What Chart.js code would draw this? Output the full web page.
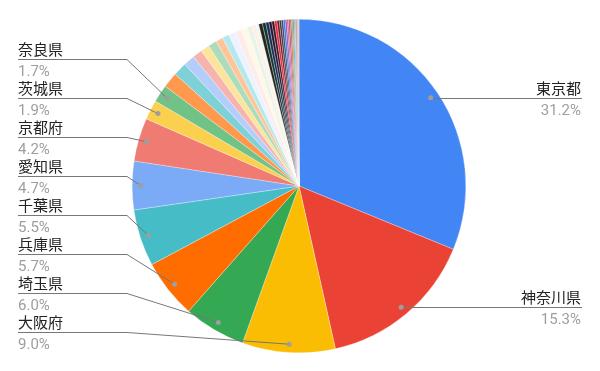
<!DOCTYPE html>
<html><head><meta charset="utf-8">
<script src="https://cdn.jsdelivr.net/npm/chart.js@4.4.0/dist/chart.umd.min.js"></script>
<style>html,body{margin:0;padding:0;background:#fff;}canvas{display:block;}</style>
</head><body>
<canvas id="c" width="600" height="371"></canvas>
<script>
const categories = ["東京都","神奈川県","大阪府","埼玉県","兵庫県","千葉県","愛知県","京都府","茨城県","奈良県",
  "福岡県","広島県","静岡県","宮城県","北海道","滋賀県","群馬県","栃木県","岐阜県","三重県",
  "岡山県","和歌山県","長野県","山梨県","新潟県","熊本県","福島県","沖縄県","愛媛県","香川県",
  "鹿児島県","長崎県","石川県","富山県","大分県","山口県","岩手県","青森県","福井県","徳島県",
  "山形県","宮崎県","佐賀県","秋田県","高知県","鳥取県","島根県"];
const values = [31.2,15.3,9.0,6.0,5.7,5.5,4.7,4.2,1.9,1.7,
  1.5,1.3,1.1,0.95,0.85,0.83,0.7,0.66,0.65,0.63,0.6,0.47,0.42,0.25,
  0.36,0.33,0.3,0.28,0.26,0.24,0.22,0.2,0.19,0.18,0.16,0.16,0.15,0.14,0.12,0.11,0.1,0.09,0.08,0.07,0.06,0.05,0.04];
const colors = ["#4285f4","#ea4335","#fbbc04","#34a853","#ff6d01","#46bdc6","#7baaf7","#f07b72","#fcd04f","#71c287",
  "#ff994d","#7ed1d7","#b3cefb","#f7b4ae","#fde49b","#aedcba","#ffc599","#b5e8ec","#ecf3fe","#fdeceb","#fff8e6","#e6f4ea","#fff0e6","#e8f7f8",
  "#2b2116","#0e3a34","#1c2c55","#221733","#3d1420","#ea1e3c","#6b1a2a","#4d3016","#24408f","#3a6fd0","#7a4cb0","#e0508c",
  "#b03a70","#8a6a24","#c47a2c","#2a8a80","#3ab0c8","#e87aa0","#6a4c8c","#a08040","#d06030","#50a060","#ff8a50"];
const labeledCount = 10;

const labelPlugin = {
  id: 'sideLabels',
  afterDraw(chart) {
    const ctx = chart.ctx;
    const meta = chart.getDatasetMeta(0);
    const total = values.reduce((a, b) => a + b, 0);
    const items = [];
    for (let i = 0; i < labeledCount; i++) {
      const arc = meta.data[i];
      const mid = (arc.startAngle + arc.endAngle) / 2;
      const r = arc.outerRadius * 0.95;
      const px = arc.x + Math.cos(mid) * r;
      const py = arc.y + Math.sin(mid) * r;
      items.push({i, mid, px, py, right: px > arc.x + 1});
    }
    const lefts = items.filter(o => !o.right).sort((a, b) => b.mid - a.mid);
    lefts.forEach((o, k) => { o.lineY = 59 + k * 39; });
    ctx.save();
    ctx.strokeStyle = '#777777';
    ctx.lineWidth = 1;
    items.forEach(o => {
      const name = categories[o.i];
      const pct = (values[o.i] / total * 100).toFixed(1) + '%';
      ctx.beginPath();
      if (o.right) {
        const y = Math.round(o.py) + 0.5;
        ctx.moveTo(o.px, y); ctx.lineTo(582, y); ctx.stroke();
        ctx.textAlign = 'right';
        ctx.fillStyle = '#222222'; ctx.font = '15px "Noto Sans CJK JP"';
        ctx.fillText(name, 581, y - 5);
        ctx.fillStyle = '#9e9e9e'; ctx.font = '15px Roboto';
        ctx.fillText(pct, 581, y + 16);
      } else {
        const y = o.lineY + 0.5;
        ctx.moveTo(o.px, o.py); ctx.lineTo(127, y); ctx.lineTo(18, y); ctx.stroke();
        ctx.textAlign = 'left';
        ctx.fillStyle = '#222222'; ctx.font = '15px "Noto Sans CJK JP"';
        ctx.fillText(name, 18, y - 5);
        ctx.fillStyle = '#9e9e9e'; ctx.font = '15px Roboto';
        ctx.fillText(pct, 18, y + 16);
      }
    });
    items.forEach(o => {
      ctx.beginPath();
      ctx.fillStyle = '#9e9e9e';
      ctx.arc(o.px, o.py, 2.5, 0, Math.PI * 2);
      ctx.fill();
    });
    ctx.restore();
  }
};

new Chart(document.getElementById('c'), {
  type: 'pie',
  data: {
    labels: categories,
    datasets: [{ data: values, backgroundColor: colors, borderColor: '#ffffff', borderWidth: 0.3 }]
  },
  options: {
    responsive: false,
    animation: false,
    devicePixelRatio: 1,
    layout: { padding: { top: 19, bottom: 18, left: 0, right: 2 } },
    plugins: { legend: { display: false }, tooltip: { enabled: false } }
  },
  plugins: [labelPlugin]
});
</script>
</body></html>
